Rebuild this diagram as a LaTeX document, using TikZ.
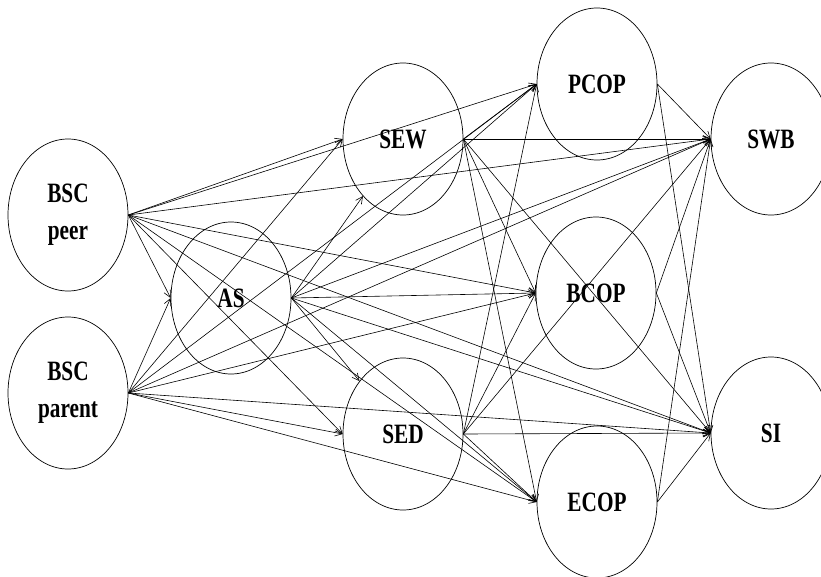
\documentclass[tikz,border=0pt]{standalone}
\usepackage{fontspec}
\setmainfont{Liberation Serif}[FakeStretch=0.76]
\usetikzlibrary{shapes.geometric,arrows.meta}

\begin{document}
\begin{tikzpicture}[x=1pt,y=-1pt,
  var/.style={ellipse,draw,line width=0.7pt,minimum width=120pt,
    minimum height=152pt,inner sep=0pt,align=center,
    font=\fontsize{28}{37}\selectfont\bfseries},
  link/.style={-{Straight Barb[length=7pt,width=7pt]},line width=0.6pt}]

\useasboundingbox (0,0) rectangle (821,576);
\clip (0,0) rectangle (821,576);

% latent variables
\node[var] (peer)   at (68,215)  {BSC\\peer};
\node[var] (parent) at (68,393)  {BSC\\parent};
\node[var] (AS)     at (231,298) {AS};
\node[var] (SEW)    at (403,139) {SEW};
\node[var] (SED)    at (403,434) {SED};
\node[var] (PCOP)   at (597,84)  {PCOP};
\node[var] (BCOP)   at (596,293) {BCOP};
\node[var] (ECOP)   at (597,502) {ECOP};
\node[var] (SWB)    at (771,139) {SWB};
\node[var] (SI)     at (771,433) {SI};

% paths from the two self-concept sources
\foreach \s in {peer,parent}
  \foreach \t in {AS,SEW,SED,PCOP,BCOP,ECOP,SWB,SI}
    \draw[link] (\s.east) -- (\t.west);

% paths from AS
\draw[link] (AS.east) -- (SEW);
\draw[link] (AS.east) -- (SED);
\foreach \t in {PCOP,BCOP,ECOP,SWB,SI}
  \draw[link] (AS.east) -- (\t.west);

% paths from SEW and SED
\foreach \s in {SEW,SED}
  \foreach \t in {PCOP,BCOP,ECOP,SWB,SI}
    \draw[link] (\s.east) -- (\t.west);

% paths from the coping variables to the outcomes
\foreach \s in {PCOP,BCOP,ECOP}
  \foreach \t in {SWB,SI}
    \draw[link] (\s.east) -- (\t.west);
\end{tikzpicture}
\end{document}
